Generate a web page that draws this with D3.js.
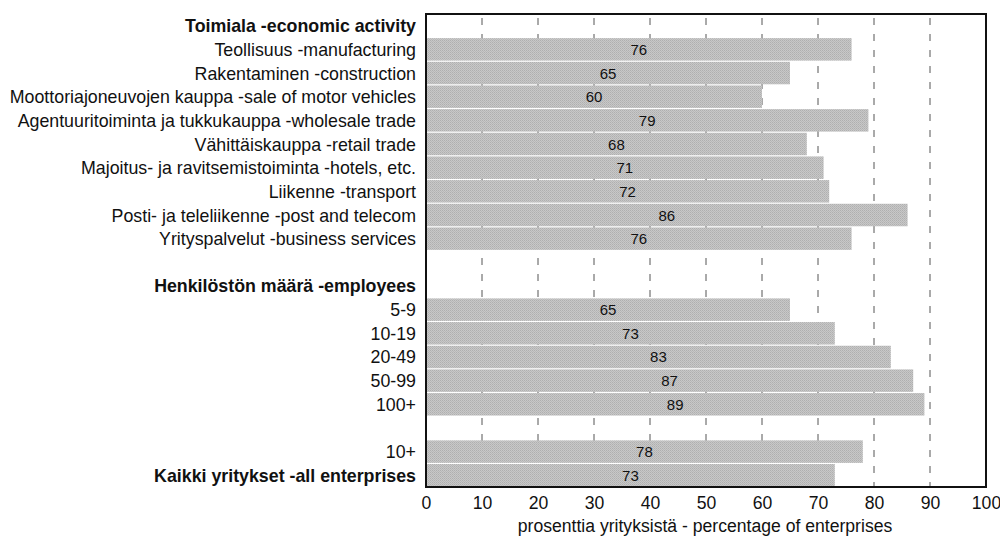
<!DOCTYPE html>
<html><head><meta charset="utf-8">
<script src="https://cdn.jsdelivr.net/npm/d3@7"></script>
<style>body{margin:0;background:#fff}svg{display:block}text{font-family:"Liberation Sans",Arial,sans-serif}</style>
</head><body><svg id="c" width="1000" height="541"></svg>
<script>
const labels = [
  "Toimiala -economic activity",
  "Teollisuus -manufacturing",
  "Rakentaminen -construction",
  "Moottoriajoneuvojen kauppa -sale of motor vehicles",
  "Agentuuritoiminta ja tukkukauppa -wholesale trade",
  "Vähittäiskauppa -retail trade",
  "Majoitus- ja ravitsemistoiminta -hotels, etc.",
  "Liikenne -transport",
  "Posti- ja teleliikenne -post and telecom",
  "Yrityspalvelut -business services",
  "",
  "Henkilöstön määrä -employees",
  "5-9", "10-19", "20-49", "50-99", "100+",
  "",
  "10+",
  "Kaikki yritykset -all enterprises"
];
const values = [null,76,65,60,79,68,71,72,86,76,null,null,65,73,83,87,89,null,78,73];
const boldRows = ["Toimiala -economic activity","Henkilöstön määrä -employees","Kaikki yritykset -all enterprises"];
const ticks = [0,10,20,30,40,50,60,70,80,90,100];
const xTitle = "prosenttia yrityksistä - percentage of enterprises";

const svg = d3.select("#c");
const L = 426, R = 986, T = 14, B = 487;
const x = d3.scaleLinear().domain([0,100]).range([L,R]);
const ids = labels.map((d,i)=>i);
const y = d3.scaleBand().domain(ids).range([T,B]).paddingInner(0.05).paddingOuter(0.02);

const defs = svg.append("defs");
const pat = defs.append("pattern").attr("id","stip").attr("width",2).attr("height",2).attr("patternUnits","userSpaceOnUse");
pat.append("rect").attr("width",2).attr("height",2).attr("fill","#c8c8c8");
pat.append("rect").attr("width",1).attr("height",1).attr("fill","#afafaf");
pat.append("rect").attr("x",1).attr("y",1).attr("width",1).attr("height",1).attr("fill","#b8b8b8");

svg.append("g").selectAll("line").data(ticks.filter(t=>t>0&&t<100)).join("line")
  .attr("x1",d=>x(d)).attr("x2",d=>x(d)).attr("y1",T).attr("y2",B)
  .attr("stroke","#555").attr("stroke-width",1).attr("stroke-dasharray","7,9").attr("stroke-dashoffset",-4);

const rows = ids.filter(i=>values[i]!==null);
svg.append("g").selectAll("rect").data(rows).join("rect")
  .attr("x",x(0)).attr("y",i=>y(i)).attr("width",i=>x(values[i])-x(0)).attr("height",y.bandwidth())
  .attr("fill","url(#stip)");

svg.append("g").selectAll("text").data(rows).join("text")
  .attr("x",i=>(x(0)+x(values[i]))/2).attr("y",i=>y(i)+y.bandwidth()/2+5.5)
  .attr("text-anchor","middle").attr("font-size",15).attr("fill","#111")
  .text(i=>values[i]);

svg.append("g").selectAll("text").data(ids.filter(i=>labels[i]!=="")).join("text")
  .attr("x",416).attr("y",i=>y(i)+y.bandwidth()/2+6.5)
  .attr("text-anchor","end").attr("font-size",17.8)
  .attr("font-weight",i=>boldRows.includes(labels[i])?"bold":"normal")
  .attr("fill","#111").text(i=>labels[i]);

svg.append("rect").attr("x",L).attr("y",T).attr("width",R-L).attr("height",B-T)
  .attr("fill","none").attr("stroke","#111").attr("stroke-width",2);

const ax = svg.append("g").attr("transform",`translate(0,${B})`)
  .call(d3.axisBottom(x).tickValues(ticks).tickSize(0).tickPadding(10));
ax.select(".domain").remove();
ax.selectAll("text").attr("font-size",17.6).attr("fill","#111").attr("font-family","Liberation Sans, Arial, sans-serif");

svg.append("text").attr("x",(L+R)/2-1).attr("y",532).attr("text-anchor","middle")
  .attr("font-size",17.6).attr("fill","#111").text(xTitle);
</script></body></html>
